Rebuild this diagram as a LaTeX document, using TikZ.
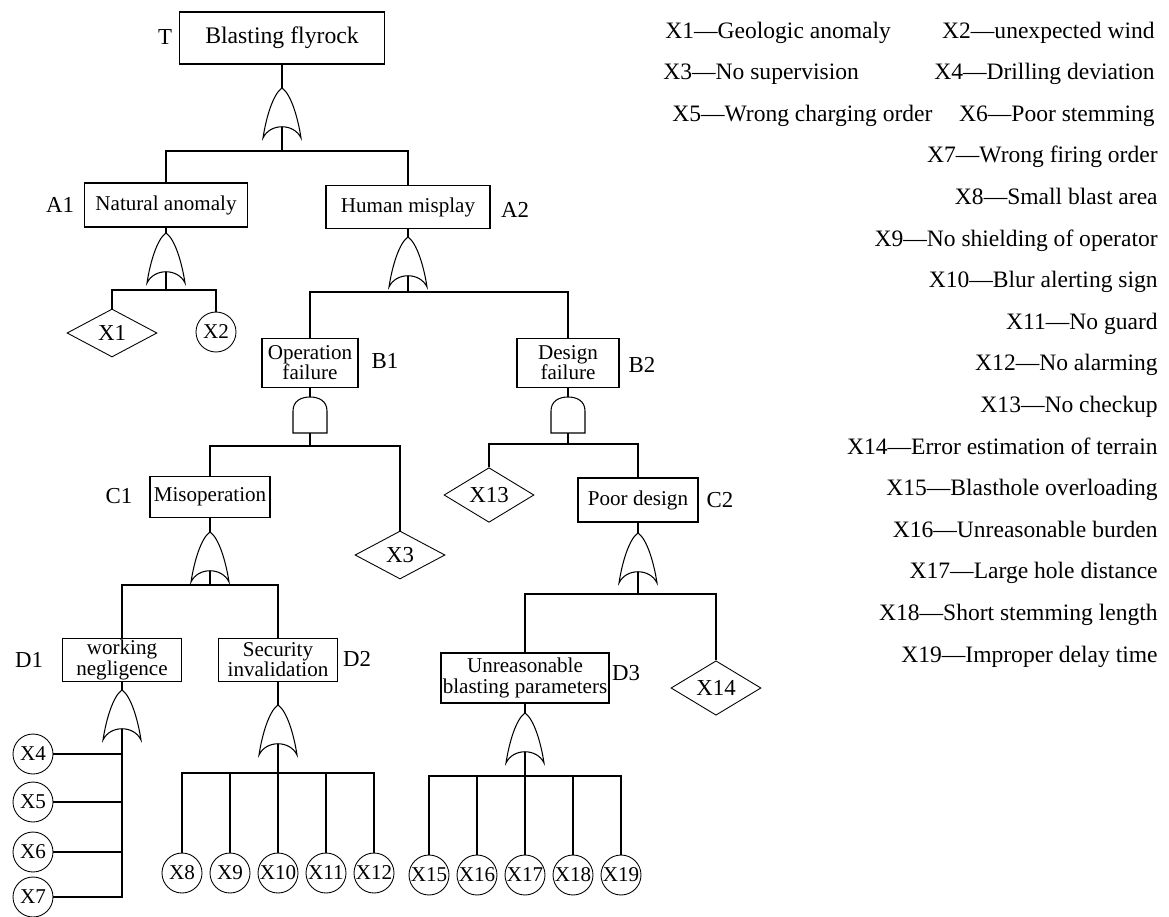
\documentclass[tikz,border=0pt]{standalone}
\usepackage{fontspec}
\setmainfont{Liberation Serif}
\usetikzlibrary{shapes.geometric}

\tikzset{
    box/.style={draw,line width=0.9pt,align=center,inner sep=1pt,font=\fontsize{12}{11.5}\selectfont},
    basic/.style={draw,circle,line width=0.5pt,inner sep=0pt,minimum size=0.8cm,font=\fontsize{12}{12}\selectfont},
    undev/.style={draw,diamond,line width=0.5pt,inner sep=0pt,minimum width=1.8cm,minimum height=0.96cm,font=\fontsize{13}{13}\selectfont},
    tag/.style={font=\fontsize{13}{13}\selectfont},
    legend/.style={anchor=base east,inner sep=0pt,font=\fontsize{13.4}{13.4}\selectfont},
    wire/.style={line width=0.6pt},
    gate/.style={line width=0.6pt},
    pics/orgate/.style={code={
        \draw[gate] (-19,50) .. controls (-16,30) and (-9,6) .. (0,0)
            .. controls (9,6) and (16,30) .. (19,50)
            .. controls (12,35) and (-12,35) .. cycle;
        \coordinate (-top) at (0,0);
        \coordinate (-in) at (0,39);
        \coordinate (-bar) at (0,#1);
    }},
    pics/andgate/.style={code={
        \draw[gate] (-17,36) -- (-17,14) .. controls (-17,4) and (-9,0) .. (0,0)
            .. controls (9,0) and (17,4) .. (17,14) -- (17,36) -- cycle;
        \coordinate (-top) at (0,0);
        \coordinate (-in) at (0,36);
        \coordinate (-bar) at (0,#1);
    }}
}

\begin{document}
\begin{tikzpicture}[x=0.02cm,y=-0.02cm]
    \useasboundingbox (0,0) rectangle (1169,916);

    % events
    \node[box,minimum width=4.1cm,minimum height=1.04cm,font=\fontsize{13.5}{13.5}\selectfont] (T) at (282,38) {Blasting flyrock};
    \node[box,minimum width=3.26cm,minimum height=0.88cm] (A1) at (166,205) {Natural anomaly};
    \node[box,minimum width=3.28cm,minimum height=0.86cm] (A2) at (408,207) {Human misplay};
    \node[box,minimum width=1.92cm,minimum height=0.98cm] (B1) at (310,363) {Operation\\failure};
    \node[box,minimum width=2.04cm,minimum height=0.98cm] (B2) at (568,363) {Design\\failure};
    \node[box,minimum width=2.4cm,minimum height=0.82cm] (C1) at (210,497) {Misoperation};
    \node[box,minimum width=2.4cm,minimum height=0.88cm] (C2) at (638,500) {Poor design};
    \node[box,minimum width=2.38cm,minimum height=0.86cm] (D1) at (122,660) {working\\negligence};
    \node[box,minimum width=2.38cm,minimum height=0.86cm] (D2) at (278,660) {Security\\invalidation};
    \node[box,minimum width=3.34cm,minimum height=1.0cm] (D3) at (525,678) {Unreasonable\\blasting parameters};

    % event tags
    \node[tag] at (165,37) {T};
    \node[tag] at (60,205) {A1};
    \node[tag] at (515,210) {A2};
    \node[tag] at (385,361) {B1};
    \node[tag] at (642,365) {B2};
    \node[tag] at (119,496) {C1};
    \node[tag] at (720,500) {C2};
    \node[tag] at (29,660) {D1};
    \node[tag] at (357,659) {D2};
    \node[tag] at (626,673) {D3};

    % gates
    \pic (gT) at (282,88) {orgate=63};
    \pic (gA1) at (166,233) {orgate=57};
    \pic (gA2) at (408,237) {orgate=55};
    \pic (gB1) at (310,397) {andgate=49};
    \pic (gB2) at (568,397) {andgate=47};
    \pic (gC1) at (210,532) {orgate=53};
    \pic (gC2) at (638,533) {orgate=61};
    \pic (gD1) at (122,690) {orgate=0};
    \pic (gD2) at (278,705) {orgate=68};
    \pic (gD3) at (525,713) {orgate=63};

    % basic events
    \node[undev] (X1) at (112,333) {X1};
    \node[basic] (X2) at (216,332) {X2};
    \node[undev] (X3) at (400,555) {X3};
    \node[undev] (X13) at (489,495) {X13};
    \node[undev] (X14) at (716,688) {X14};
    \foreach \k/\y in {4/754,5/802,6/852,7/897}
        \node[basic] (X\k) at (33,\y) {X\k};
    \foreach \k [count=\j from 0] in {8,...,12}
        \node[basic] (X\k) at (182+48*\j,873) {X\k};
    \foreach \k [count=\j from 0] in {15,...,19}
        \node[basic] (X\k) at (429+48*\j,875) {X\k};

    % connections
    \foreach \g in {T,A1,A2,B1,B2,C1,C2,D1,D2,D3}
        \draw[wire] (\g) -- (g\g-top);
    \foreach \g/\a/\b in {T/A1/A2,A1/X1/X2,A2/B1/B2,B1/C1/X3,B2/X13/C2,C1/D1/D2,C2/D3/X14}{
        \draw[wire] (g\g-in) -- (g\g-bar) -| (\a);
        \draw[wire] (g\g-bar) -| (\b);
    }
    \draw[wire] (gD1-in) |- (X7);
    \foreach \k in {4,5,6}
        \draw[wire] (X\k) -- (X\k -| gD1-in);
    \draw[wire] (gD2-in) -- (gD2-bar);
    \foreach \k in {8,...,12}
        \draw[wire] (gD2-bar) -| (X\k);
    \draw[wire] (gD3-in) -- (gD3-bar);
    \foreach \k in {15,...,19}
        \draw[wire] (gD3-bar) -| (X\k);

    % legend
    \node[legend,anchor=base west] (L1) at (665,38) {X1---Geologic anomaly};
    \node[legend] (L2) at (1155,38) {X2---unexpected wind};
    \node[legend,anchor=base west] (L3) at (663,79.6) {X3---No supervision};
    \node[legend] (L4) at (1155,79.6) {X4---Drilling deviation};
    \node[legend,anchor=base west] (L5) at (672,121.2) {X5---Wrong charging order};
    \node[legend] (L6) at (1155,121.2) {X6---Poor stemming};
    \foreach \t [count=\i from 7] in {Wrong firing order,Small blast area,No shielding of operator,
        Blur alerting sign,No guard,No alarming,No checkup,Error estimation of terrain,
        Blasthole overloading,Unreasonable burden,Large hole distance,Short stemming length,
        Improper delay time}
        \node[legend] (L\i) at (1158,{38+41.6*(\i-4)}) {X\i---\t};
\end{tikzpicture}
\end{document}
